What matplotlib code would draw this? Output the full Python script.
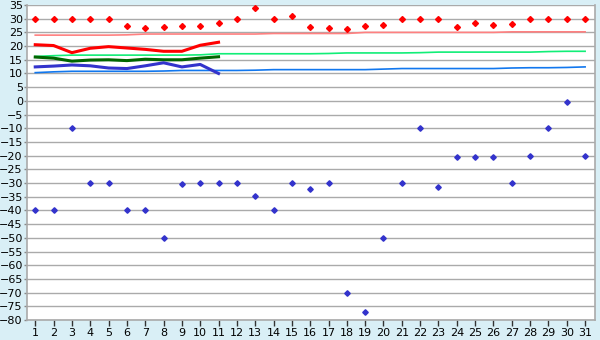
import numpy as np
import matplotlib
matplotlib.use('Agg')
import matplotlib.pyplot as plt

days = list(range(1, 32))

# daily max / min (markers)
tmax = [30, 30, 30, 30, 30, 27.5, 26.5, 26.8, 27.5, 27.2, 28.5, 30, 34, 30, 31,
        27.1, 26.7, 26.4, 27.5, 27.8, 30, 30, 30, 27.1, 28.6, 27.8, 28.2, 30, 30, 30, 30]
tmin = [-40, -40, -10, -30, -30, -40, -40, -50, -30.4, -30, -30, -30, -34.7, -40, -30,
        -32.2, -30, -70, -77, -50, -30, -10, -31.5, -20.4, -20.4, -20.4, -30, -20, -10, -0.5, -20]

# thick lines, first 11 days
days_cur = list(range(1, 12))
red_cur = [20.5, 20.2, 17.6, 19.2, 19.8, 19.3, 18.8, 18.1, 18.1, 20.3, 21.4]
green_cur = [16.0, 15.6, 14.5, 14.9, 15.0, 14.7, 15.2, 15.0, 15.0, 15.6, 16.1]
blue_cur = [12.4, 12.7, 13.1, 12.8, 12.0, 11.8, 12.8, 13.9, 12.4, 13.3, 10.0]

# thin reference lines, whole month
pink_ref = [24.0, 24.0, 24.0, 24.0, 24.0, 24.1, 24.4, 24.4, 24.4, 24.4, 24.4, 24.4, 24.4,
            24.6, 24.6, 24.6, 24.6, 24.6, 25.0, 25.0, 25.0, 25.0, 25.0, 25.0, 25.0, 25.0,
            25.2, 25.2, 25.2, 25.2, 25.2]
green_ref = [16.2, 16.5, 16.7, 16.7, 16.7, 16.7, 16.7, 16.7, 16.7, 16.8, 17.2, 17.2, 17.2,
             17.2, 17.2, 17.2, 17.3, 17.5, 17.5, 17.5, 17.5, 17.6, 17.8, 17.8, 17.8, 17.8,
             17.8, 17.8, 18.0, 18.1, 18.1]
blue_ref = [10.3, 10.6, 10.8, 10.8, 10.8, 10.8, 10.8, 10.9, 11.1, 11.1, 11.1, 11.1, 11.2,
            11.4, 11.4, 11.4, 11.4, 11.4, 11.4, 11.6, 11.8, 11.8, 11.8, 11.8, 11.8, 11.8,
            12.0, 12.1, 12.1, 12.2, 12.4]

BG = '#d9eff6'
GRID = '#aaaaaa'

fig = plt.figure(figsize=(6, 3.4), dpi=100)
fig.patch.set_facecolor(BG)
ax = fig.add_axes([0.045, 0.0588, 0.947, 0.9265])
ax.set_facecolor('white')

for y in range(-80, 36, 5):
    ax.axhline(y, color=GRID, lw=1, zorder=0)

ax.plot(days, pink_ref, color='#ff8080', lw=1.2, zorder=2)
ax.plot(days, green_ref, color='#11ee77', lw=1.2, zorder=2)
ax.plot(days, blue_ref, color='#1177ee', lw=1.2, zorder=2)

ax.plot(days_cur, red_cur, color='#ff0000', lw=2.2, zorder=3)
ax.plot(days_cur, green_cur, color='#006600', lw=2.2, zorder=3)
ax.plot(days_cur, blue_cur, color='#3333cc', lw=2.2, zorder=3)

ax.plot(days, tmax, 'D', color='#ff0000', ms=3.0, ls='none', zorder=4)
ax.plot(days, tmin, 'D', color='#3333cc', ms=2.8, ls='none', zorder=4)

ax.set_xlim(0.55, 31.55)
ax.set_ylim(-80, 35)
ax.set_xticks(days)
ax.set_yticks(range(-80, 36, 5))
ax.tick_params(axis='x', direction='out', length=4, width=1, color='#333333',
               labelsize=8, pad=2)
ax.tick_params(axis='y', direction='out', length=2, width=1, color='#888888',
               labelsize=8, pad=1)
ax.spines['top'].set_visible(False)
for s in ['left', 'bottom', 'right']:
    ax.spines[s].set_color(GRID)
    ax.spines[s].set_linewidth(1.2)

fig.savefig('out.png', dpi=100, facecolor=BG)
